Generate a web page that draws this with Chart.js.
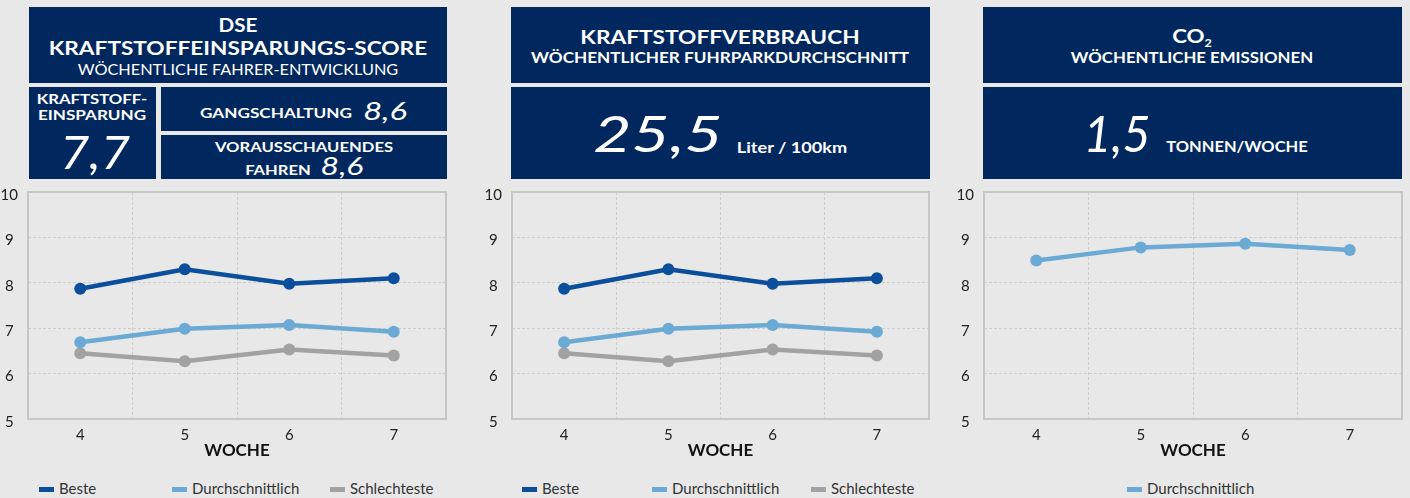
<!DOCTYPE html>
<html>
<head>
<meta charset="utf-8">
<script src="https://cdn.jsdelivr.net/npm/chart.js@4"></script>
<style>
  html, body { margin: 0; padding: 0; }
  body { width: 1410px; height: 498px; background: #e8e8e8; position: relative; overflow: hidden;
         font-family: Lato, "Open Sans", sans-serif; }
  .box { position: absolute; background: #00285e; }
  .t { position: absolute; transform: translate(-50%, -50%); white-space: nowrap; color: #fff; line-height: 1; }
  .b { font-weight: 700; }
  .num { font-style: italic; font-weight: 400; }
  canvas { position: absolute; }
  .leg { position: absolute; top: 480px; font-size: 15px; color: #333; white-space: nowrap; line-height: 16px; }
  .leg i { display: inline-block; width: 15px; height: 5px; vertical-align: middle; margin-right: 5px; position: relative; top: -1px; }
</style>
</head>
<body>

<!-- Kopfkästen -->
<div class="box" style="left:29px;top:7px;width:418px;height:76px"></div>
<div class="box" style="left:29px;top:87px;width:127px;height:92px"></div>
<div class="box" style="left:161px;top:87px;width:286px;height:44px"></div>
<div class="box" style="left:161px;top:135px;width:286px;height:44px"></div>
<div class="box" style="left:511px;top:7px;width:419px;height:76px"></div>
<div class="box" style="left:511px;top:87px;width:419px;height:92px"></div>
<div class="box" style="left:983px;top:7px;width:419px;height:76px"></div>
<div class="box" style="left:983px;top:87px;width:419px;height:92px"></div>

<!-- data-w: Breite im Original, wird per scaleX angeglichen -->
<div class="t b" data-w="39" style="left:238px;top:25px;font-size:18px">DSE</div>
<div class="t b" data-w="378" style="left:238px;top:48px;font-size:18.5px">KRAFTSTOFFEINSPARUNGS-SCORE</div>
<div class="t" data-w="320" style="left:238px;top:69px;font-size:15px">WÖCHENTLICHE FAHRER-ENTWICKLUNG</div>
<div class="t b" data-w="111" style="left:91.5px;top:100px;font-size:12.5px">KRAFTSTOFF-</div>
<div class="t b" data-w="108" style="left:92px;top:116px;font-size:12.5px">EINSPARUNG</div>
<div class="t num" data-w="70" style="left:95px;top:151px;font-size:47px">7,7</div>
<div class="t b" data-w="152" style="left:276px;top:113px;font-size:14px">GANGSCHALTUNG</div>
<div class="t num" data-w="44" style="left:385px;top:110px;font-size:26px">8,6</div>
<div class="t b" data-w="178" style="left:304px;top:147px;font-size:14px">VORAUSSCHAUENDES</div>
<div class="t b" data-w="65" style="left:277.5px;top:170px;font-size:14px">FAHREN</div>
<div class="t num" data-w="43" style="left:341.5px;top:165px;font-size:26px">8,6</div>

<div class="t b" data-w="279" style="left:720px;top:37px;font-size:19.5px">KRAFTSTOFFVERBRAUCH</div>
<div class="t b" data-w="378" style="left:720px;top:57px;font-size:15px">WÖCHENTLICHER FUHRPARKDURCHSCHNITT</div>
<div class="t num" data-w="129" style="left:657.5px;top:133px;font-size:50px">25,5</div>
<div class="t b" data-w="110" style="left:792px;top:147px;font-size:15px">Liter / 100km</div>

<div class="t b" data-w="40" style="left:1192px;top:37px;font-size:19.5px">CO<sub style="font-size:11px">2</sub></div>
<div class="t b" data-w="242" style="left:1192px;top:57px;font-size:15px">WÖCHENTLICHE EMISSIONEN</div>
<div class="t num" data-w="67" style="left:1116.5px;top:133px;font-size:50px">1,5</div>
<div class="t b" data-w="142" style="left:1237px;top:147px;font-size:14.5px">TONNEN/WOCHE</div>

<canvas id="c1" width="452" height="293" style="left:0px;top:182px"></canvas>
<canvas id="c2" width="451" height="293" style="left:484px;top:182px"></canvas>
<canvas id="c3" width="452" height="293" style="left:956px;top:182px"></canvas>

<div class="leg" style="left:39px"><i style="background:#0b4f9c"></i>Beste</div>
<div class="leg" style="left:172px"><i style="background:#6aaad4"></i>Durchschnittlich</div>
<div class="leg" style="left:330px"><i style="background:#a2a2a2"></i>Schlechteste</div>
<div class="leg" style="left:522px"><i style="background:#0b4f9c"></i>Beste</div>
<div class="leg" style="left:652px"><i style="background:#6aaad4"></i>Durchschnittlich</div>
<div class="leg" style="left:811px"><i style="background:#a2a2a2"></i>Schlechteste</div>
<div class="leg" style="left:1127px"><i style="background:#6aaad4"></i>Durchschnittlich</div>

<script>
const weeks = ['4', '5', '6', '7'];
const yMin = 5;
const yMax = 10;

// DSE Kraftstoffeinsparungs-Score
const dseBest = [7.87, 8.30, 7.98, 8.10];
const dseAvg = [6.69, 6.99, 7.07, 6.92];
const dseWorst = [6.45, 6.27, 6.53, 6.40];

// Kraftstoffverbrauch
const fuelBest = [7.87, 8.30, 7.98, 8.10];
const fuelAvg = [6.69, 6.99, 7.07, 6.92];
const fuelWorst = [6.45, 6.27, 6.53, 6.40];

// CO2
const co2Avg = [8.49, 8.78, 8.86, 8.72];

const BEST = '#0b4f9c';
const AVG = '#6aaad4';
const WORST = '#a2a2a2';
const GRID = '#cdcdcd';

// header texts: stretch to the widths of the original
document.querySelectorAll('.t[data-w]').forEach(el => {
  const w = parseFloat(el.dataset.w);
  const s = w / el.offsetWidth;
  el.style.transform = `translate(-50%, -50%) scaleX(${s.toFixed(3)})`;
});

// solid frame round the plot area
const framePlugin = {
  id: 'frame',
  afterDraw(chart) {
    const { ctx, chartArea: a } = chart;
    ctx.save();
    ctx.strokeStyle = '#c6c6c6';
    ctx.lineWidth = 2;
    ctx.strokeRect(a.left, a.top, a.right - a.left, a.bottom - a.top);
    ctx.restore();
  }
};

function series(label, data, color) {
  return {
    label, data,
    borderColor: color,
    backgroundColor: color,
    borderWidth: 4.5,
    pointRadius: 6,
    pointBorderWidth: 0,
    tension: 0
  };
}

function drawChart(id, datasets) {
  const ctx = document.getElementById(id).getContext('2d');
  return new Chart(ctx, {
    type: 'line',
    data: { labels: weeks, datasets },
    options: {
      responsive: false,
      animation: false,
      layout: { padding: { top: 10, right: 5, left: 0, bottom: 0 } },
      plugins: { legend: { display: false }, tooltip: { enabled: false } },
      scales: {
        x: {
          offset: true,
          grid: { color: GRID, offset: true, drawTicks: false },
          border: { display: false, dash: [3, 2] },
          ticks: { color: '#222', padding: 7, font: { family: 'Lato', size: 15 } },
          title: {
            display: true, text: 'WOCHE', color: '#111',
            font: { family: 'Lato', size: 17, weight: 'bold' },
            padding: { top: 0, bottom: 14 }
          },
          afterFit: s => { s.height = 56; s.paddingLeft = 0; s.paddingRight = 0; }
        },
        y: {
          min: yMin, max: yMax,
          grid: { color: GRID, drawTicks: false },
          border: { display: false, dash: [3, 2] },
          ticks: { stepSize: 1, color: '#222', padding: 10, crossAlign: 'center', labelOffset: 3,
                   font: { family: 'Lato', size: 15 } },
          afterFit: s => { s.width = 28; s.paddingTop = 0; s.paddingBottom = 0; }
        }
      }
    },
    plugins: [framePlugin]
  });
}

drawChart('c1', [
  series('Beste', dseBest, BEST),
  series('Durchschnittlich', dseAvg, AVG),
  series('Schlechteste', dseWorst, WORST)
]);
drawChart('c2', [
  series('Beste', fuelBest, BEST),
  series('Durchschnittlich', fuelAvg, AVG),
  series('Schlechteste', fuelWorst, WORST)
]);
drawChart('c3', [
  series('Durchschnittlich', co2Avg, AVG)
]);
</script>
</body>
</html>
